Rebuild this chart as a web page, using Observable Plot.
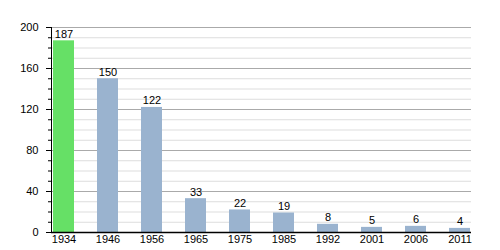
<!DOCTYPE html>
<html>
<head>
<meta charset="utf-8">
<script src="https://cdn.jsdelivr.net/npm/d3@7"></script>
<script src="https://cdn.jsdelivr.net/npm/@observablehq/plot@0.6"></script>
<style>
  html, body { margin: 0; padding: 0; background: #fff; }
  svg { display: block; overflow: visible; }
</style>
</head>
<body>
<div id="chart"></div>
<script>
const years = ["1934", "1946", "1956", "1965", "1975", "1985", "1992", "2001", "2006", "2011"];
const population = [187, 150, 122, 33, 22, 19, 8, 5, 6, 4];
const highlightYear = "1934";
const majorTicks = [0, 40, 80, 120, 160, 200];
const minorTicks = d3.range(0, 201, 10);

const data = years.map((y, i) => ({year: y, value: population[i]}));

const chart = Plot.plot({
  width: 500,
  height: 250,
  marginLeft: 51,
  marginRight: 29,
  marginTop: 27,
  marginBottom: 18,
  style: {fontFamily: "'Liberation Sans', Arial, sans-serif", fontSize: "11px", color: "#000", background: "#fff", overflow: "visible"},
  x: {domain: years, paddingInner: 0.526, paddingOuter: 0, label: null},
  y: {domain: [0, 200], label: null},
  marks: [
    Plot.ruleY(minorTicks.filter(d => d % 40 !== 0), {stroke: "#dddddd", strokeWidth: 1}),
    Plot.ruleY(majorTicks, {stroke: "#aaaaaa", strokeWidth: 1}),
    Plot.barY(data, {x: "year", y: "value", fill: d => d.year === highlightYear ? "#66e066" : "#9ab3cf"}),
    Plot.text(data, {x: "year", y: "value", text: d => String(d.value), lineAnchor: "bottom", dy: -3, fill: "#000"}),
    Plot.axisY({ticks: minorTicks, tickSize: 3, tickFormat: () => "", stroke: "#000"}),
    Plot.axisY({ticks: majorTicks, tickSize: 5, tickPadding: 8, stroke: "#000", fill: "#000"}),
    Plot.axisX({tickSize: 0, tickPadding: 3, fill: "#000"}),
    Plot.ruleY([0], {stroke: "#000", strokeWidth: 1.3}),
    Plot.frame({anchor: "left", stroke: "#000"})
  ]
});
document.getElementById("chart").appendChild(chart);
</script>
</body>
</html>
